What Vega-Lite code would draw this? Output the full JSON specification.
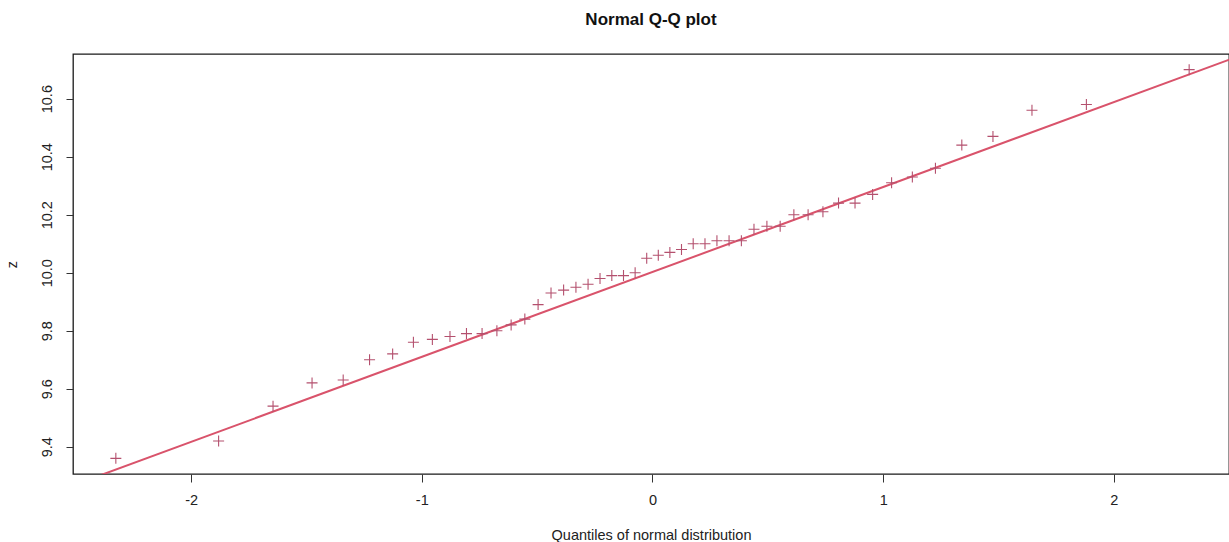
{
  "$schema": "https://vega.github.io/schema/vega-lite/v6.json",
  "autosize": {"type": "none"},
  "padding": {"left": 73, "top": 54, "right": 0, "bottom": 68},
  "width": 1156,
  "height": 420,
  "background": "white",
  "config": {
    "font": "Liberation Sans",
    "view": {"stroke": "#1a1a1a", "strokeWidth": 1.3}
  },
  "title": {
    "text": "Normal Q-Q plot",
    "fontSize": 17,
    "fontWeight": "bold",
    "color": "#111111",
    "anchor": "middle",
    "offset": 25
  },
  "datasets": {
    "sample": [
      {"theoretical": -2.3263, "z": 9.36},
      {"theoretical": -1.8808, "z": 9.42},
      {"theoretical": -1.6449, "z": 9.54},
      {"theoretical": -1.4758, "z": 9.62},
      {"theoretical": -1.3408, "z": 9.63},
      {"theoretical": -1.2265, "z": 9.70},
      {"theoretical": -1.1264, "z": 9.72},
      {"theoretical": -1.0364, "z": 9.76},
      {"theoretical": -0.9542, "z": 9.77},
      {"theoretical": -0.8779, "z": 9.78},
      {"theoretical": -0.8064, "z": 9.79},
      {"theoretical": -0.7388, "z": 9.79},
      {"theoretical": -0.6745, "z": 9.80},
      {"theoretical": -0.6128, "z": 9.82},
      {"theoretical": -0.5534, "z": 9.84},
      {"theoretical": -0.4959, "z": 9.89},
      {"theoretical": -0.4399, "z": 9.93},
      {"theoretical": -0.3853, "z": 9.94},
      {"theoretical": -0.3319, "z": 9.95},
      {"theoretical": -0.2793, "z": 9.96},
      {"theoretical": -0.2275, "z": 9.98},
      {"theoretical": -0.1764, "z": 9.99},
      {"theoretical": -0.1257, "z": 9.99},
      {"theoretical": -0.0753, "z": 10.00},
      {"theoretical": -0.0251, "z": 10.05},
      {"theoretical": 0.0251, "z": 10.06},
      {"theoretical": 0.0753, "z": 10.07},
      {"theoretical": 0.1257, "z": 10.08},
      {"theoretical": 0.1764, "z": 10.10},
      {"theoretical": 0.2275, "z": 10.10},
      {"theoretical": 0.2793, "z": 10.11},
      {"theoretical": 0.3319, "z": 10.11},
      {"theoretical": 0.3853, "z": 10.11},
      {"theoretical": 0.4399, "z": 10.15},
      {"theoretical": 0.4959, "z": 10.16},
      {"theoretical": 0.5534, "z": 10.16},
      {"theoretical": 0.6128, "z": 10.20},
      {"theoretical": 0.6745, "z": 10.20},
      {"theoretical": 0.7388, "z": 10.21},
      {"theoretical": 0.8064, "z": 10.24},
      {"theoretical": 0.8779, "z": 10.24},
      {"theoretical": 0.9542, "z": 10.27},
      {"theoretical": 1.0364, "z": 10.31},
      {"theoretical": 1.1264, "z": 10.33},
      {"theoretical": 1.2265, "z": 10.36},
      {"theoretical": 1.3408, "z": 10.44},
      {"theoretical": 1.4758, "z": 10.47},
      {"theoretical": 1.6449, "z": 10.56},
      {"theoretical": 1.8808, "z": 10.58},
      {"theoretical": 2.3263, "z": 10.70}
    ],
    "refline": [
      {"theoretical": -2.6, "z": 9.2412},
      {"theoretical": 2.6, "z": 10.7638}
    ]
  },
  "encoding": {
    "x": {
      "field": "theoretical",
      "type": "quantitative",
      "scale": {"domain": [-2.512, 2.499], "nice": false, "zero": false},
      "axis": {
        "title": "Quantiles of normal distribution",
        "titleFontSize": 14.5,
        "titleFontWeight": "normal",
        "titleColor": "#222222",
        "titlePadding": 22,
        "values": [-2, -1, 0, 1, 2],
        "labelExpr": "'' + datum.value",
        "domain": false,
        "grid": false,
        "ticks": true,
        "tickSize": 8,
        "tickColor": "#333333",
        "labelFontSize": 14.5,
        "labelColor": "#222222",
        "labelPadding": 11
      }
    },
    "y": {
      "field": "z",
      "type": "quantitative",
      "scale": {"domain": [9.306, 10.754], "nice": false, "zero": false},
      "axis": {
        "title": "z",
        "titleFontSize": 14.5,
        "titleFontWeight": "normal",
        "titleColor": "#222222",
        "titlePadding": 20,
        "values": [9.4, 9.6, 9.8, 10.0, 10.2, 10.4, 10.6],
        "format": ".1f",
        "domain": false,
        "grid": false,
        "tickSize": 7,
        "tickColor": "#333333",
        "labelFontSize": 14.5,
        "labelColor": "#222222",
        "labelAngle": 270,
        "labelAlign": "center",
        "labelBaseline": "bottom",
        "labelPadding": 12
      }
    }
  },
  "layer": [
    {
      "data": {"name": "refline"},
      "mark": {"type": "line", "color": "#D9536B", "strokeWidth": 2, "clip": true}
    },
    {
      "data": {"name": "sample"},
      "mark": {
        "type": "point",
        "shape": "M-1,0H1M0,-1V1",
        "size": 121,
        "filled": false,
        "color": "#B4506E",
        "strokeWidth": 1.1,
        "opacity": 1
      }
    }
  ]
}
